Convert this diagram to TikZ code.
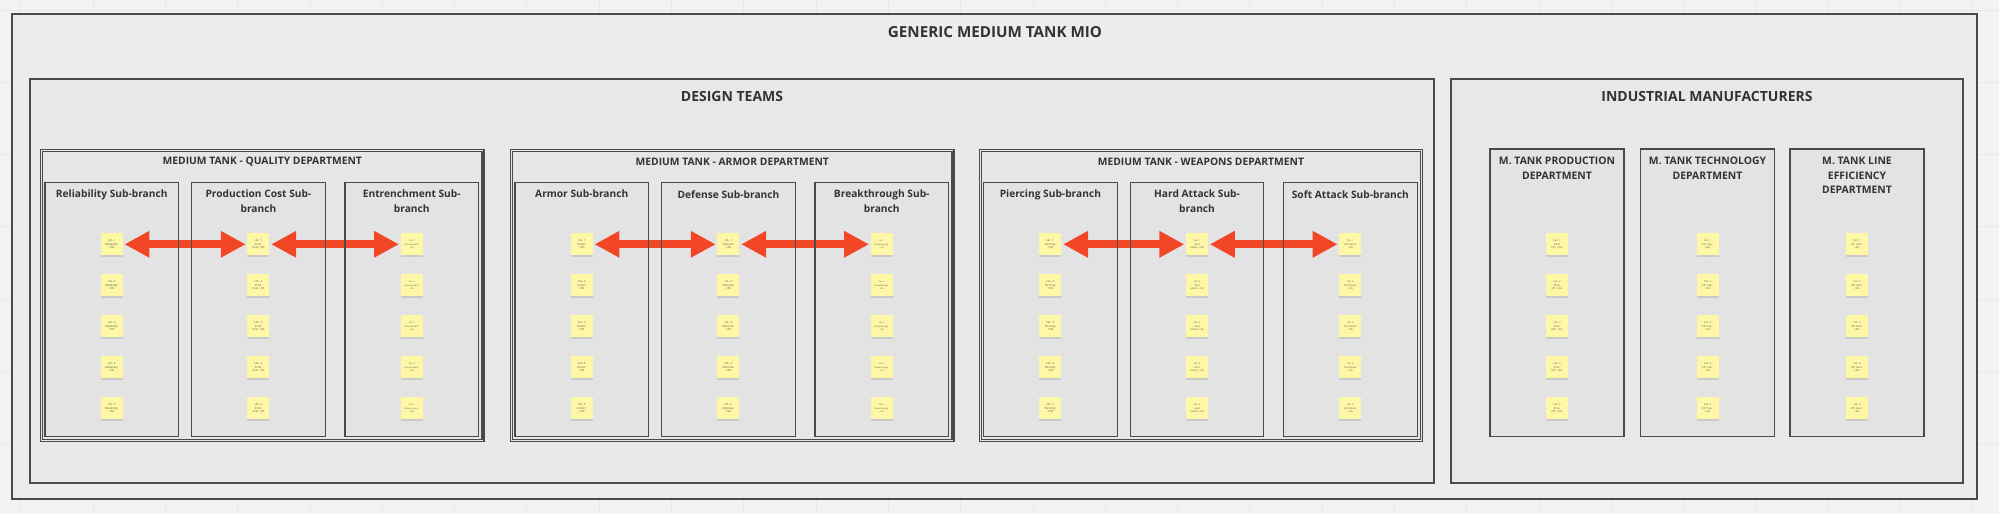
\documentclass[tikz,border=0pt]{standalone}
\usepackage{fontspec}
\setmainfont{Open Sans}
\usetikzlibrary{positioning,arrows.meta,shadows}
\definecolor{canvas}{HTML}{F3F3F3}
\definecolor{gridc}{HTML}{E8E8E8}
\definecolor{ink}{HTML}{333333}
\definecolor{edge}{HTML}{4A4A4A}
\definecolor{boardfill}{HTML}{ECECEC}
\definecolor{teamfill}{HTML}{E8E8E8}
\definecolor{deptfill}{HTML}{E6E6E6}
\definecolor{subfill}{HTML}{E3E3E3}
\definecolor{sticky}{HTML}{FEF7A6}
\definecolor{linkred}{HTML}{F24726}
\pgfdeclarelayer{front}
\pgfsetlayers{main,front}

\begin{document}
\begin{tikzpicture}[x=1pt, y=-1pt, every node/.style={text=ink},
  frame/.style={draw=edge, line width=1.1pt},
  bigtitle/.style={font=\fontsize{14}{17}\selectfont\bfseries},
  depttitle/.style={font=\fontsize{10.3}{12}\selectfont\bfseries},
  subtitle/.style={font=\fontsize{10.2}{14.7}\selectfont\bfseries, align=center, anchor=north, inner sep=0pt},
  note/.style={fill=sticky, minimum size=22pt, inner sep=0pt, align=center, text=black!65, font=\fontsize{#1}{3.4}\selectfont, drop shadow={shadow xshift=0pt, shadow yshift=-1.5pt, opacity=.25}},
  link/.style={draw=linkred, line width=7.7pt, {Triangle[length=25pt,width=25pt]}-{Triangle[length=25pt,width=25pt]}, shorten <=1.5pt, shorten >=1.5pt}]
  \useasboundingbox (0,0) rectangle (1999,514);
  \fill[canvas] (0,0) rectangle (1999,514);
  \foreach \gx in {20.5,92.8,...,1999} {\draw[gridc] (\gx,0) -- (\gx,514);}
  \foreach \gy in {9.7,82,...,514} {\draw[gridc] (0,\gy) -- (1999,\gy);}

  % board and the two groups
  \draw[frame, fill=boardfill] (12,14) rectangle (1977,499);
  \node[bigtitle, font=\fontsize{15.2}{18}\selectfont\bfseries] (board) at (995,32) {GENERIC MEDIUM TANK MIO};
  \draw[frame, fill=teamfill] (30,79) rectangle (1434,483);
  \node[bigtitle] (teams) at (732,96) {DESIGN TEAMS};
  \draw[frame, fill=teamfill] (1451,79) rectangle (1963,483);
  \node[bigtitle] (makers) at (1707,96) {INDUSTRIAL MANUFACTURERS};

  \begin{scope}[xshift=40.7pt]
    \draw[frame, fill=deptfill] (0,149.3) rectangle (443.3,441.7);
    \draw[frame] (2,151.3) rectangle (441.3,439.7);
    \node[depttitle] (qdept) at (221.6,162) {MEDIUM TANK - QUALITY DEPARTMENT};
    \foreach \i/\sx/\stitle/\na/\nb/\fs in {1/4.3/{Reliability Sub-branch}/{Reliability:}/{+}/2.8, 2/151/{Production Cost Sub-\\branch}/{Prod.}/{Cost: -}/2.8, 3/304.3/{Entrenchment Sub-\\branch}/{Entrenchment:}/{+}/2.1} {
      \fill[subfill] (\sx,182.7) rectangle ++(133.5,254);
      \begin{pgfonlayer}{front}\draw[frame] (\sx,182.7) rectangle ++(133.5,254);\end{pgfonlayer}
      \node[subtitle] (qsub\i) at (\sx+66.75,190) {\stitle};
      \foreach \k in {1,...,5} {
        \pgfmathtruncatemacro\pct{\k==5 ? 5 : 3}
        \node[note=\fs] (q\i-\k) at (\sx+66.75,203.3+41*\k) {LVL. \k\\\na\\\nb\pct\%};
      }
    }
    \draw[link] (q1-1) -- (q2-1);
    \draw[link] (q2-1) -- (q3-1);
  \end{scope}

  \begin{scope}[xshift=510.7pt]
    \draw[frame, fill=deptfill] (0,149.3) rectangle (443.3,441.7);
    \draw[frame] (2,151.3) rectangle (441.3,439.7);
    \node[depttitle] (adept) at (221.6,162) {MEDIUM TANK - ARMOR DEPARTMENT};
    \foreach \i/\sx/\stitle/\na/\nb/\fs in {1/4.3/{Armor Sub-branch}/{Armor:}/{+}/2.8, 2/151/{Defense Sub-branch}/{Defense:}/{+}/2.8, 3/304.3/{Breakthrough Sub-\\branch}/{Breakthrough:}/{+}/2.1} {
      \fill[subfill] (\sx,182.7) rectangle ++(133.5,254);
      \begin{pgfonlayer}{front}\draw[frame] (\sx,182.7) rectangle ++(133.5,254);\end{pgfonlayer}
      \node[subtitle] (asub\i) at (\sx+66.75,190) {\stitle};
      \foreach \k in {1,...,5} {
        \pgfmathtruncatemacro\pct{\k==5 ? 5 : 3}
        \node[note=\fs] (a\i-\k) at (\sx+66.75,203.3+41*\k) {LVL. \k\\\na\\\nb\pct\%};
      }
    }
    \draw[link] (a1-1) -- (a2-1);
    \draw[link] (a2-1) -- (a3-1);
  \end{scope}

  \begin{scope}[xshift=979.3pt]
    \draw[frame, fill=deptfill] (0,149.3) rectangle (443.3,441.7);
    \draw[frame] (2,151.3) rectangle (441.3,439.7);
    \node[depttitle] (wdept) at (221.6,162) {MEDIUM TANK - WEAPONS DEPARTMENT};
    \foreach \i/\sx/\stitle/\na/\nb/\fs in {1/4.3/{Piercing Sub-branch}/{Piercing:}/{+}/2.8, 2/151/{Hard Attack Sub-\\branch}/{Hard}/{Attack: +}/2.4, 3/304.3/{Soft Attack Sub-branch}/{Soft Attack:}/{+}/2.4} {
      \fill[subfill] (\sx,182.7) rectangle ++(133.5,254);
      \begin{pgfonlayer}{front}\draw[frame] (\sx,182.7) rectangle ++(133.5,254);\end{pgfonlayer}
      \node[subtitle] (wsub\i) at (\sx+66.75,190) {\stitle};
      \foreach \k in {1,...,5} {
        \pgfmathtruncatemacro\pct{\k==5 ? 5 : 3}
        \node[note=\fs] (w\i-\k) at (\sx+66.75,203.3+41*\k) {LVL. \k\\\na\\\nb\pct\%};
      }
    }
    \draw[link] (w1-1) -- (w2-1);
    \draw[link] (w2-1) -- (w3-1);
  \end{scope}

  % manufacturers
  \foreach \i/\sx/\stitle/\na/\nb in {1/1490/{M. TANK PRODUCTION\\DEPARTMENT}/{Prod.}/{Eff.: +}, 2/1640.5/{M. TANK TECHNOLOGY\\DEPARTMENT}/{Eff. Cap:}/{+}, 3/1790/{M. TANK LINE\\EFFICIENCY\\DEPARTMENT}/{Eff. Gain:}/{+}} {
    \draw[frame, fill=subfill] (\sx,149) rectangle ++(134,287.7);
    \node[subtitle, font=\fontsize{10.4}{14.5}\selectfont\bfseries] (msub\i) at (\sx+67,157) {\stitle};
    \foreach \k in {1,...,5} {
      \pgfmathtruncatemacro\pct{\k==5 ? 5 : 3}
      \node[note=2.6] (m\i-\k) at (\sx+67,203.3+41*\k) {LVL. \k\\\na\\\nb\pct\%};
    }
  }
\end{tikzpicture}
\end{document}
